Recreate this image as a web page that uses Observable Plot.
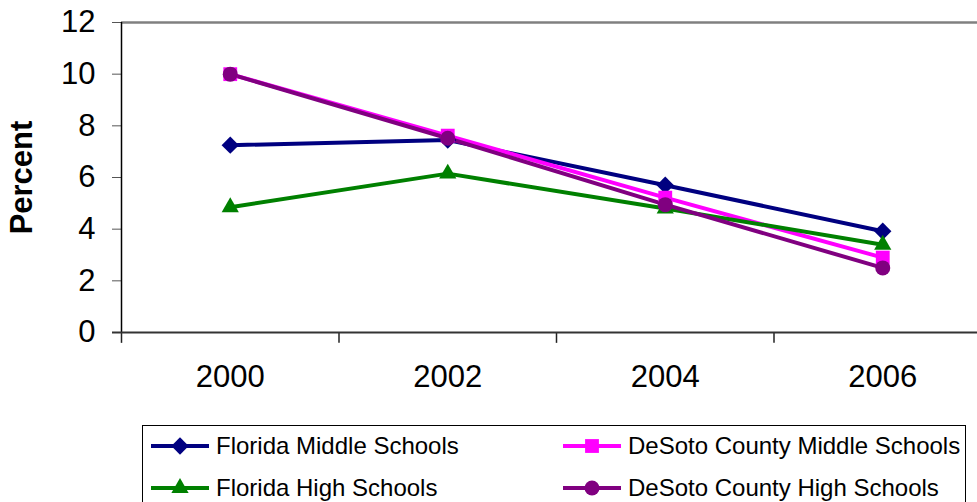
<!DOCTYPE html>
<html>
<head>
<meta charset="utf-8">
<script src="https://cdn.jsdelivr.net/npm/d3@7"></script>
<script src="https://cdn.jsdelivr.net/npm/@observablehq/plot@0.6"></script>
<style>
  html, body { margin: 0; padding: 0; background: #fff; overflow: hidden; }
  body { width: 977px; height: 502px; font-family: "Liberation Sans", Arial, sans-serif; }
  #legend {
    position: absolute; left: 142px; top: 425px; width: 824px; height: 100px;
    border: 1.5px solid #000; box-sizing: border-box;
  }
  .item { position: absolute; display: flex; align-items: center; font-size: 24px; color: #000; }
  .item svg { margin-right: 6px; }
</style>
</head>
<body>
<div id="chart"></div>
<div id="legend"></div>
<script>
const years = [2000, 2002, 2004, 2006];
const floridaMiddle = [7.25, 7.45, 5.7, 3.92];
const desotoMiddle = [10.0, 7.62, 5.22, 2.9];
const floridaHigh = [4.85, 6.15, 4.8, 3.4];
const desotoHigh = [10.0, 7.52, 4.95, 2.5];
const seriesNames = ["Florida Middle Schools", "DeSoto County Middle Schools", "Florida High Schools", "DeSoto County High Schools"];
const seriesColors = ["#000080", "#FF00FF", "#008000", "#800080"];
const seriesSymbols = ["diamond2", "square", "triangle", "circle"];
const seriesR = [7.8, 7.8, 6.4, 7.5];
const yTicks = [0, 2, 4, 6, 8, 10, 12];
const boundaries = [1999, 2001, 2003, 2005];

const seriesValues = [floridaMiddle, desotoMiddle, floridaHigh, desotoHigh];
const data = [];
seriesValues.forEach((vals, si) => {
  vals.forEach((v, i) => data.push({series: seriesNames[si], idx: si, year: years[i], value: v}));
});

const lineMarks = seriesNames.map((name, si) =>
  Plot.line(data.filter(d => d.idx === si), {x: "year", y: "value", stroke: seriesColors[si], strokeWidth: 4})
);
const dotMarks = seriesNames.map((name, si) =>
  Plot.dot(data.filter(d => d.idx === si), {x: "year", y: "value", fill: seriesColors[si], symbol: seriesSymbols[si], r: seriesR[si], stroke: "none"})
);

const chart = Plot.plot({
  width: 977,
  height: 420,
  marginLeft: 121,
  marginRight: 0,
  marginTop: 22,
  marginBottom: 88,
  style: {fontFamily: "'Liberation Sans', Arial, sans-serif", background: "#fff", overflow: "visible"},
  x: {type: "linear", domain: [1999, 2007], range: [121, 991]},
  y: {domain: [0, 12], ticks: yTicks},
  marks: [
    Plot.ruleY([12], {x1: 1999, x2: 2007, stroke: "#808080", strokeWidth: 2.5}),
    Plot.axisY({ticks: yTicks, tickSize: 9, tickPadding: 17, fontSize: 31, stroke: "#555", label: null}),
    Plot.axisX({ticks: years, tickSize: 0, tickPadding: 32, fontSize: 31, tickFormat: d => String(d), label: null}),
    Plot.ruleX(boundaries, {y1: 0, y2: -0.42, stroke: "#222", strokeWidth: 1.5}),
    Plot.ruleX([1999], {y1: 0, y2: 12, stroke: "#000", strokeWidth: 1.5}),
    Plot.ruleY([0], {x1: 1999 - 9 / 108.75, x2: 2007, stroke: "#333", strokeWidth: 2}),
    ...lineMarks,
    ...dotMarks,
    Plot.text(["Percent"], {frameAnchor: "left", textAnchor: "middle", dx: -99, rotate: -90, fontSize: 31, fontWeight: "bold", fill: "#000"})
  ]
});
document.getElementById("chart").appendChild(chart);

// Legend
const legend = document.getElementById("legend");
const pos = [[7, 20], [419, 20], [7, 62], [419, 62]];
const d3sym = {diamond2: d3.symbolDiamond2, square: d3.symbolSquare, triangle: d3.symbolTriangle, circle: d3.symbolCircle};
seriesNames.forEach((name, si) => {
  const div = document.createElement("div");
  div.className = "item";
  div.style.left = pos[si][0] + "px";
  div.style.top = (pos[si][1] - 14) + "px";
  const r = seriesR[si];
  const path = d3.symbol(d3sym[seriesSymbols[si]], Math.PI * r * r)();
  div.innerHTML = `<svg width="60" height="28" viewBox="0 0 60 28"><line x1="1" x2="59" y1="14" y2="14" stroke="${seriesColors[si]}" stroke-width="4"/><path d="${path}" transform="translate(30,14)" fill="${seriesColors[si]}"/></svg><span>${name}</span>`;
  legend.appendChild(div);
});
</script>
</body>
</html>
